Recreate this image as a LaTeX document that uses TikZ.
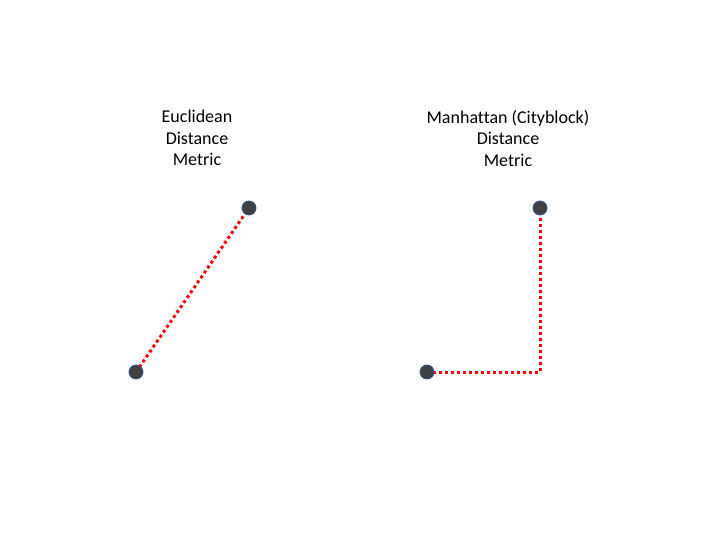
\documentclass[tikz,border=0pt]{standalone}
\usepackage{fontspec}
\setmainfont[Ligatures=NoCommon]{Carlito}
\definecolor{dotfill}{HTML}{404040}
\definecolor{dotline}{HTML}{2F528F}
\begin{document}
\begin{tikzpicture}[x=1pt,y=-1pt,
  dot/.style={circle,fill=dotfill,draw=dotline,line width=0.8pt,minimum size=14pt,inner sep=0pt},
  path/.style={red,line width=3pt,dash pattern=on 3pt off 3pt},
  title/.style={align=center,font=\fontsize{18}{21.5}\selectfont,inner sep=0pt}]
\useasboundingbox (0,0) rectangle (720,540);
\node[title] (t1) at (197,138) {Euclidean\\Distance\\Metric};
\node[title] (t2) at (508,138) {Manhattan (Cityblock)\\Distance\\Metric};
\coordinate (corner) at (540,372);
\draw[path] (136,372) -- (249,208);
\draw[path] (427,372) -- (corner) -- (540,208);
\node[dot] (a1) at (136,372) {};
\node[dot] (b1) at (249,208) {};
\node[dot] (a2) at (427,372) {};
\node[dot] (b2) at (540,208) {};
\end{tikzpicture}
\end{document}
